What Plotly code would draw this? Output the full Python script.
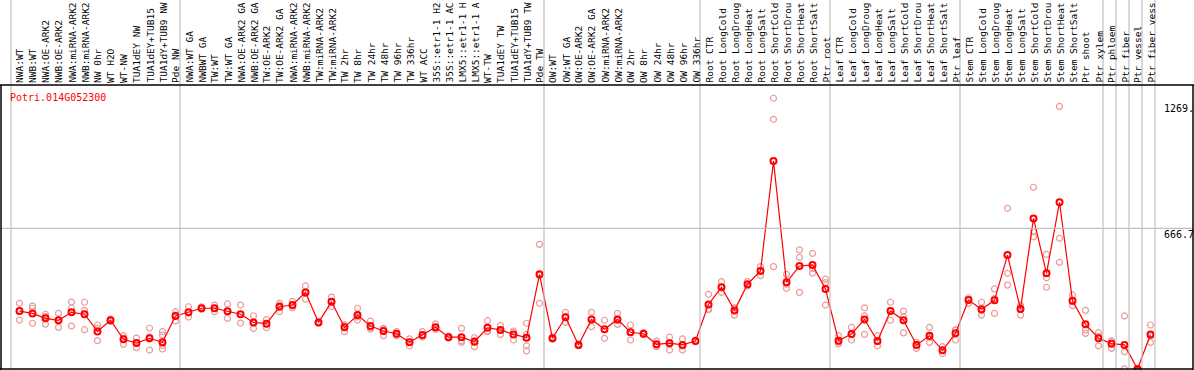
import plotly.graph_objects as go

gene = "Potri.014G052300"

samples = [
    "NWA:WT", "NWB:WT", "NWA:OE-ARK2", "NWB:OE-ARK2", "NWA:miRNA-ARK2", "NWB:miRNA-ARK2",
    "NW 0hr", "WT H2O", "WT-NW", "TUA1dEY NW", "TUA1dEY+TUB15", "TUA1dY+TUB9 NW", "Pde NW",
    "NWA:WT GA", "NWBWT GA", "TW:WT", "TW:WT GA", "NWA:OE-ARK2 GA", "NWB:OE-ARK2 GA",
    "TW:OE-ARK2", "TW:OE-ARK2 GA", "NWA:miRNA-ARK2", "NWB:miRNA-ARK2", "TW:miRNA-ARK2",
    "TW:miRNA-ARK2", "TW 2hr", "TW 8hr", "TW 24hr", "TW 48hr", "TW 96hr", "TW 336hr", "WT ACC",
    "35S::etr1-1 H2", "35S::etr1-1 AC", "LMX5::etr1-1 H", "LMX5::etr1-1 A", "WT-TW",
    "TUA1dEY TW", "TUA1dEY+TUB15", "TUA1dY+TUB9 TW", "Pde TW",
    "OW:WT", "OW:WT GA", "OW:OE-ARK2", "OW:OE-ARK2 GA", "OW:miRNA-ARK2", "OW:miRNA-ARK2",
    "OW 2hr", "OW 8hr", "OW 24hr", "OW 48hr", "OW 96hr", "OW 336hr",
    "Root CTR", "Root LongCold", "Root LongDroug", "Root LongHeat", "Root LongSalt",
    "Root ShortCold", "Root ShortDrou", "Root ShortHeat", "Root ShortSalt", "Ptr root",
    "Leaf CTR", "Leaf LongCold", "Leaf LongDroug", "Leaf LongHeat", "Leaf LongSalt",
    "Leaf ShortCold", "Leaf ShortDrou", "Leaf ShortHeat", "Leaf ShortSalt", "Ptr leaf",
    "Stem CTR", "Stem LongCold", "Stem LongDroug", "Stem LongHeat", "Stem LongSalt",
    "Stem ShortCold", "Stem ShortDrou", "Stem ShortHeat", "Stem ShortSalt", "Ptr shoot",
    "Ptr xylem", "Ptr phloem", "Ptr fiber", "Ptr vessel", "Ptr fiber vess",
]

group_starts = [0, 13, 41, 53, 63, 73, 84, 85, 86, 87, 88]

means = [
    281, 270, 247, 238, 275, 266, 186, 238, 149, 132, 154, 135, 258,
    275, 294, 294, 280, 266, 228, 222, 301, 309, 368, 228, 324, 205, 262, 211, 188,
    175, 135, 169, 205, 159, 159, 138, 203, 193, 172, 157, 452,
    154, 252, 123, 242, 196, 242, 182, 175, 126, 131, 123, 141,
    312, 392, 284, 406, 468, 980, 415, 491, 496, 384,
    143, 174, 242, 141, 281, 238, 123, 166, 98, 177,
    332, 289, 331, 542, 290, 713, 457, 788, 329, 219, 154,
    129, 123, 11, 172,
]

replicates = [
    [317, 239, 280], [304, 294, 224], [266, 220, 255], [270, 205, 238], [323, 294, 211],
    [322, 284, 194], [216, 200, 143], [243, 238, 233], [166, 126, 155], [155, 110, 131],
    [202, 99, 160], [185, 169, 104, 120], [278, 235, 262],
    [301, 253, 272], [300, 290, 292], [309, 278, 295], [314, 247, 280], [309, 225, 265],
    [259, 200, 226], [241, 203, 222], [317, 278, 308], [326, 296, 305], [398, 336, 370],
    [232, 225, 228], [346, 301, 325], [213, 185, 217], [294, 239, 254], [234, 197, 202],
    [200, 166, 198], [185, 166, 174], [151, 118, 136], [185, 161, 161], [221, 196, 198],
    [164, 157, 156], [200, 135, 142], [157, 115, 143], [236, 185, 188], [213, 172, 194],
    [188, 146, 182], [224, 172, 119, 95], [592, 317, 447],
    [160, 150, 152], [275, 228, 253], [128, 120, 121], [275, 208, 243], [238, 154, 196],
    [270, 219, 237], [216, 146, 184], [180, 172, 173], [141, 115, 122], [159, 99, 135],
    [151, 99, 119], [145, 138, 140],
    [359, 290, 287], [418, 368, 390], [294, 262, 296], [418, 398, 402], [488, 446, 470],
    [1273, 1175, 488], [452, 387, 406], [566, 531, 368], [550, 480, 458], [430, 413, 309],
    [166, 127, 136], [205, 146, 171], [296, 172, 258], [166, 119, 138], [322, 238, 283],
    [281, 179, 254], [135, 107, 127], [205, 135, 158], [115, 82, 97], [193, 146, 192],
    [343, 317, 336], [322, 262, 283], [384, 270, 339], [760, 457, 402], [309, 262, 299],
    [858, 651, 627], [545, 436, 392], [1235, 620, 508], [356, 306, 325], [284, 193, 177],
    [180, 119, 163],
    [138, 107, 142], [258, 91, 11], [8, 12, 13], [216, 135, 165],
]

axis_labels = ["1269.", "666.7", "0"]
axis_values = [1269, 666.7, 0]

# ---- geometry / style ----
W, H = 1194, 370
COL = 13.0          # pixels per sample
X0 = 19.5           # pixel of first sample
HEADER = 85         # pixel y of header separator
Y_TOP, Y_BOT = 1731.1, 6.1

x_range = [-X0 / COL, -X0 / COL + W / COL]

def px_to_paper_y(py):
    return 1 - py / H

def px_to_paper_x(px):
    return px / W

idx = list(range(len(samples)))
rx, ry = [], []
for i, reps in enumerate(replicates):
    for v in reps:
        rx.append(i)
        ry.append(v)

fig = go.Figure()
fig.add_trace(go.Scatter(
    x=rx, y=ry, mode="markers", hoverinfo="skip",
    marker=dict(symbol="circle", size=6, color="rgba(0,0,0,0)",
                line=dict(color="#ec9a9a", width=1.2)),
))
fig.add_trace(go.Scatter(
    x=idx, y=means, mode="lines+markers",
    line=dict(color="#ff0000", width=1.2),
    marker=dict(symbol="circle", size=6, color="rgba(0,0,0,0)",
                line=dict(color="#ff0000", width=2)),
))

shapes = []
gray = "#c0c0c0"
for b in group_starts:
    xb = b - 8.5 / COL
    shapes.append(dict(type="line", xref="x", yref="paper", x0=xb, x1=xb,
                       y0=px_to_paper_y(369), y1=1, line=dict(color=gray, width=1.2)))
shapes.append(dict(type="line", xref="paper", yref="y", x0=px_to_paper_x(1), x1=px_to_paper_x(1193),
                   y0=axis_values[1], y1=axis_values[1], line=dict(color=gray, width=1.2)))
blk = dict(color="black", width=1.5)
shapes.append(dict(type="line", xref="paper", yref="paper", x0=0, x1=1,
                   y0=px_to_paper_y(HEADER), y1=px_to_paper_y(HEADER), line=blk))
shapes.append(dict(type="line", xref="paper", yref="paper", x0=0, x1=px_to_paper_x(1193),
                   y0=px_to_paper_y(369), y1=px_to_paper_y(369), line=blk))
shapes.append(dict(type="line", xref="paper", yref="paper", x0=px_to_paper_x(1), x1=px_to_paper_x(1),
                   y0=px_to_paper_y(HEADER), y1=px_to_paper_y(370), line=blk))
shapes.append(dict(type="line", xref="paper", yref="paper", x0=px_to_paper_x(1193), x1=px_to_paper_x(1193),
                   y0=px_to_paper_y(HEADER), y1=px_to_paper_y(370), line=blk))

mono = "DejaVu Sans Mono"
annotations = []
for i, s in enumerate(samples):
    annotations.append(dict(
        x=i, xref="x", y=px_to_paper_y(HEADER - 1), yref="paper",
        text=s, textangle=-90, showarrow=False, xanchor="center", yanchor="bottom",
        borderpad=0, font=dict(family=mono, size=9.5, color="black"),
    ))
annotations.append(dict(
    x=px_to_paper_x(9), xref="paper", y=px_to_paper_y(97), yref="paper",
    text=gene, showarrow=False, xanchor="left", yanchor="middle", borderpad=0,
    font=dict(family=mono, size=10, color="#ff0000"),
))
for lab, val, anc, sh in zip(axis_labels, axis_values, ["top", "top", "bottom"], [-3, 0, 5]):
    annotations.append(dict(
        x=px_to_paper_x(1163), xref="paper", y=val, yref="y", yshift=sh,
        text=lab, showarrow=False, xanchor="left", yanchor=anc, borderpad=0,
        font=dict(family=mono, size=10, color="black"),
    ))

fig.update_layout(
    width=W, height=H, margin=dict(l=0, r=0, t=0, b=0),
    paper_bgcolor="white", plot_bgcolor="white", showlegend=False,
    xaxis=dict(range=x_range, visible=False, fixedrange=True),
    yaxis=dict(range=[Y_BOT, Y_TOP], visible=False, fixedrange=True),
    shapes=shapes, annotations=annotations,
)

fig.write_html("out.html", config={"displayModeBar": False},
               post_script="document.body.style.margin='0px';")
